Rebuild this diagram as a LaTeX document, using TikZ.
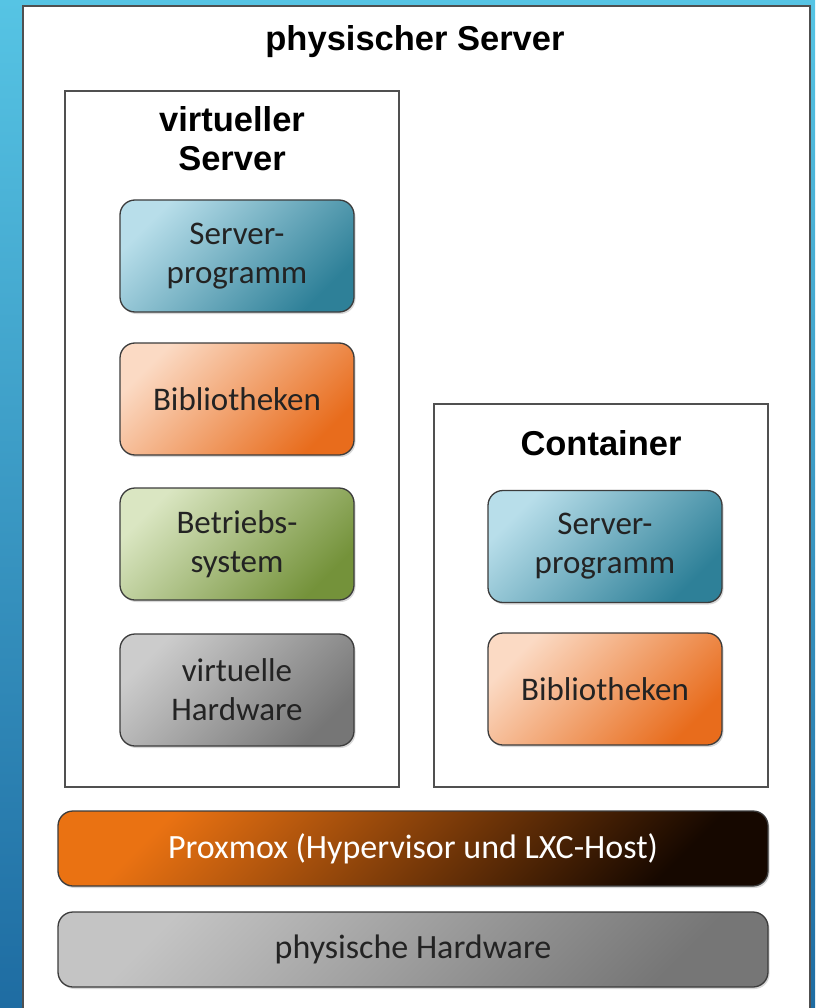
\documentclass[tikz,border=0pt]{standalone}
\usepackage{fontspec}
\setmainfont{Carlito}
\newfontfamily\headfont{Liberation Sans}
\usetikzlibrary{shadows}

\definecolor{slidetop}{RGB}{86,196,228}
\definecolor{slidebot}{RGB}{30,108,162}
\definecolor{frameline}{RGB}{80,80,80}
\definecolor{boxline}{RGB}{60,60,60}
\definecolor{textdark}{RGB}{35,35,35}
\definecolor{bluelight}{RGB}{184,222,234}
\definecolor{bluedark}{RGB}{46,128,152}
\definecolor{orangelight}{RGB}{251,218,196}
\definecolor{orangedark}{RGB}{232,108,28}
\definecolor{greenlight}{RGB}{218,230,194}
\definecolor{greendark}{RGB}{116,146,58}
\definecolor{graylight}{RGB}{204,204,204}
\definecolor{graydark}{RGB}{118,118,118}
\definecolor{proxlight}{RGB}{234,114,18}
\definecolor{proxdark}{RGB}{22,8,0}

\tikzset{
  frame/.style={draw=frameline, line width=1.6pt, fill=white},
  heading/.style={font=\headfont\bfseries\fontsize{34.5}{39}\selectfont, text=black, align=center},
  layer/.style={draw=boxline, line width=1.3pt, rounded corners=15pt,
    drop shadow={shadow xshift=1.5pt, shadow yshift=-2pt, opacity=0.3},
    text=textdark, align=center, font=\fontsize{33}{39}\selectfont,
    minimum width=234pt, minimum height=112pt},
  blueshade/.style={left color=bluelight, right color=bluedark, shading angle=45},
  orangeshade/.style={left color=orangelight, right color=orangedark, shading angle=45},
  greenshade/.style={left color=greenlight, right color=greendark, shading angle=45},
  grayshade/.style={left color=graylight, right color=graydark, shading angle=45},
}

\begin{document}
\begin{tikzpicture}[x=1pt, y=-1pt]
  \useasboundingbox (0,0) rectangle (815,1008);
  % slide background
  \shade[top color=slidetop, bottom color=slidebot] (0,0) rectangle (815,1008);
  \node (phys) [frame, anchor=north west, minimum width=787pt, minimum height=1015pt] at (22,5) {};
  \node (physlabel) [heading] at (415,42) {physischer Server};

  % virtueller Server
  \node (vsrv) [frame, minimum width=334pt, minimum height=696pt] at (232,439) {};
  \node (vsrvlabel) [heading] at (232,139) {virtueller\\Server};
  \node (vprog) [layer, blueshade] at (237,256) {Server-\\programm};
  \node (vlib) [layer, orangeshade] at (237,399) {Bibliotheken};
  \node (vos) [layer, greenshade] at (237,544) {Betriebs-\\system};
  \node (vhw) [layer, grayshade] at (237,690) {virtuelle\\Hardware};

  % Container
  \node (ctr) [frame, minimum width=334pt, minimum height=383pt] at (601,595.5) {};
  \node (ctrlabel) [heading] at (601,443) {Container};
  \node (cprog) [layer, blueshade] at (605,546.5) {Server-\\programm};
  \node (clib) [layer, orangeshade] at (605,689) {Bibliotheken};

  % Host
  \node (prox) [layer, left color=proxlight, right color=proxdark, shading angle=45,
    minimum width=710pt, minimum height=75pt, text=white,
    font=\fontsize{34}{39}\selectfont] at (413,848.5)
    {Proxmox (Hypervisor und LXC-Host)};
  \node (phw) [layer, left color=graylight!90!gray, right color=graydark, shading angle=45,
    minimum width=710pt, minimum height=75pt,
    font=\fontsize{34}{39}\selectfont] at (413,949.5) {physische Hardware};
\end{tikzpicture}
\end{document}
